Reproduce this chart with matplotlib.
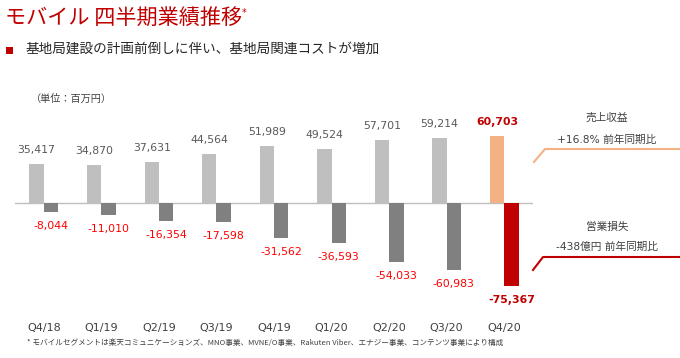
import matplotlib

matplotlib.use("Agg")
import matplotlib.pyplot as plt
from matplotlib.patches import Rectangle

plt.rcParams["font.family"] = ["DejaVu Sans", "Noto Sans CJK JP"]

quarters = ["Q4/18", "Q1/19", "Q2/19", "Q3/19", "Q4/19", "Q1/20", "Q2/20", "Q3/20", "Q4/20"]
revenue = [35417, 34870, 37631, 44564, 51989, 49524, 57701, 59214, 60703]
operating_loss = [-8044, -11010, -16354, -17598, -31562, -36593, -54033, -60983, -75367]

RED = "#C00000"
GREY_TEXT = "#404040"

fig = plt.figure(figsize=(6.8, 3.58), dpi=100)
W, H = 680, 358


def fx(px):
    return px / W


def fy(py):
    return 1 - py / H


# header
fig.text(fx(5), fy(18), "モバイル 四半期業績推移", color=RED, fontsize=15.2,
         family="Noto Sans CJK JP", va="center", ha="left")
fig.text(fx(242), fy(13), "*", color=RED, fontsize=7, va="center", ha="left")
fig.patches.append(Rectangle((fx(6), fy(54)), fx(7), 7 / H, transform=fig.transFigure,
                             facecolor=RED, edgecolor="none"))
fig.text(fx(26), fy(49), "基地局建設の計画前倒しに伴い、基地局関連コストが増加", color="#262626",
         fontsize=9.8, family="Noto Sans CJK JP", va="center", ha="left")
fig.text(fx(31), fy(99), "（単位：百万円）", color=GREY_TEXT, fontsize=7.3,
         family="Noto Sans CJK JP", va="center", ha="left")

# chart area: x from -0.5..8.5 spans px 15..533, baseline at px 203
units_per_px = 909
top_px, bottom_px, base_px = 110, 315, 203
ax = fig.add_axes([fx(15), fy(bottom_px), (533 - 15) / W, (bottom_px - top_px) / H])
ax.set_xlim(-0.5, len(quarters) - 0.5)
ax.set_ylim(-(bottom_px - base_px) * units_per_px, (base_px - top_px) * units_per_px)
for side in ax.spines.values():
    side.set_visible(False)
ax.set_yticks([])
ax.axhline(0, color="#BFBFBF", lw=1, zorder=1)

width = 0.25
last = len(quarters) - 1
for i, (rev, loss) in enumerate(zip(revenue, operating_loss)):
    is_last = i == last
    ax.bar(i - width / 2, rev, width, color="#F4B183" if is_last else "#BFBFBF", zorder=2)
    ax.bar(i + width / 2, loss, width, color=RED if is_last else "#808080", zorder=2)
    ax.annotate(f"{rev:,}", (i - width / 2, rev), xytext=(0, 14), textcoords="offset pixels",
                ha="center", va="center", fontsize=7.8,
                color=RED if is_last else "#595959",
                fontweight="bold" if is_last else "normal")
    ax.annotate(f"{loss:,}", (i + width / 2, loss), xytext=(0, -14), textcoords="offset pixels",
                ha="center", va="center", fontsize=7.8,
                color=RED if is_last else "#FF0000",
                fontweight="bold" if is_last else "normal")

ax.set_xticks(range(len(quarters)))
ax.set_xticklabels(quarters, fontsize=8, color=GREY_TEXT)
ax.tick_params(axis="x", length=0, pad=6)

# right-hand callouts
fig.text(fx(607), fy(118), "売上収益", color=GREY_TEXT, fontsize=7.7, ha="center", va="center")
fig.text(fx(607), fy(140), "+16.8% 前年同期比", color=GREY_TEXT, fontsize=7.7, ha="center", va="center")
fig.add_artist(plt.Line2D([fx(534), fx(545), fx(680)], [fy(162), fy(149), fy(149)],
                          color="#F4B183", lw=1.5, transform=fig.transFigure))
fig.text(fx(607), fy(227), "営業損失", color=GREY_TEXT, fontsize=7.7, ha="center", va="center")
fig.text(fx(607), fy(247), "-438億円 前年同期比", color=GREY_TEXT, fontsize=7.7, ha="center", va="center")
fig.add_artist(plt.Line2D([fx(533), fx(543), fx(680)], [fy(270), fy(257), fy(257)],
                          color=RED, lw=1.5, transform=fig.transFigure))

fig.text(fx(27), fy(343),
         "* モバイルセグメントは楽天コミュニケーションズ、MNO事業、MVNE/O事業、Rakuten Viber、エナジー事業、コンテンツ事業により構成",
         color=GREY_TEXT, fontsize=5.5, family=["Noto Sans CJK JP", "DejaVu Sans"],
         ha="left", va="center")

fig.savefig("out.png", dpi=100)
